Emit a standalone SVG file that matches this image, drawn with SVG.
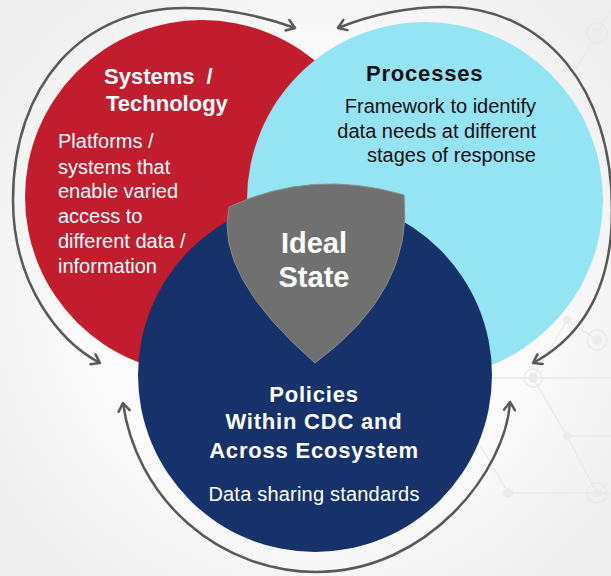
<svg xmlns="http://www.w3.org/2000/svg" width="611" height="576" viewBox="0 0 611 576">
<defs>
<radialGradient id="bg" cx="310" cy="290" r="380" gradientUnits="userSpaceOnUse">
<stop offset="0" stop-color="#ffffff"/>
<stop offset="0.6" stop-color="#fbfbfb"/>
<stop offset="1" stop-color="#eeeeee"/>
</radialGradient>
<marker id="chev" viewBox="0 0 12 14" markerWidth="12" markerHeight="14" refX="10" refY="7" orient="auto-start-reverse" markerUnits="userSpaceOnUse">
<path d="M2,1.5 L10,7 L2,12.5" fill="none" stroke="#595959" stroke-width="2.5" stroke-linecap="round" stroke-linejoin="round"/>
</marker>
<style>
.arc{fill:none;stroke:#595959;stroke-width:2.5;marker-start:url(#chev);marker-end:url(#chev)}
.net{fill:none;stroke:#e9e9e9;stroke-width:1.3}
.netdot{fill:#ebebeb}
.hw{font-family:"Liberation Sans",Arial,sans-serif;font-weight:bold;font-size:22px;fill:#ffffff}
.hb{font-family:"Liberation Sans",Arial,sans-serif;font-weight:bold;font-size:22px;fill:#111111;letter-spacing:0.8px}
.bw{font-family:"Liberation Sans",Arial,sans-serif;font-size:20px;fill:#ffffff}
.bb{font-family:"Liberation Sans",Arial,sans-serif;font-size:20px;fill:#111111}
.ideal{font-family:"Liberation Sans",Arial,sans-serif;font-weight:bold;font-size:29px;fill:#ffffff}
</style>
</defs>
<rect width="611" height="576" fill="url(#bg)"/>
<g id="background-network">
<path class="net" d="M490,378 H611 M533,378 L567,436 H611 M567,436 L597,493 M508,493 H611 M508,493 L480,445 M567,320 L597,340 M567,320 L533,378 M597,33 L611,10 M597,33 L570,80"/>
<circle class="net" cx="597" cy="33" r="10"/><circle class="netdot" cx="597" cy="33" r="5"/>
<circle class="net" cx="597" cy="340" r="10"/><circle class="netdot" cx="597" cy="340" r="5"/>
<circle class="net" cx="533" cy="378" r="9"/><circle class="netdot" cx="533" cy="378" r="5"/>
<circle class="netdot" cx="567" cy="320" r="4"/>
<circle class="netdot" cx="567" cy="436" r="4"/>
<circle class="net" cx="597" cy="493" r="10"/><circle class="netdot" cx="597" cy="493" r="5"/>
<circle class="netdot" cx="508" cy="493" r="5"/>
</g>
<g id="systems-technology">
<circle cx="202" cy="197" r="177" fill="#C21D2E"/>
</g>
<g id="processes">
<circle cx="425" cy="200" r="178" fill="#95E4F4"/>
</g>
<g id="policies">
<circle cx="315" cy="375" r="177" fill="#17316B"/>
</g>
<g id="ideal-state">
<path d="M229,207 Q312,168 404,195 Q414,290 315,363 Q214,275 229,207 Z" fill="#707070" stroke="#8a8a8a" stroke-width="1"/>
<text class="ideal" x="314" y="253" text-anchor="middle">Ideal</text>
<text class="ideal" x="314" y="287" text-anchor="middle">State</text>
</g>
<g id="systems-technology-text">
<text class="hw" x="104" y="84" word-spacing="6">Systems /</text>
<text class="hw" x="106" y="111">Technology</text>
<text class="bw" x="58" y="148">Platforms /</text>
<text class="bw" x="58" y="174">systems that</text>
<text class="bw" x="58" y="198">enable varied</text>
<text class="bw" x="58" y="223">access to</text>
<text class="bw" x="58" y="248">different data /</text>
<text class="bw" x="58" y="273">information</text>
</g>
<g id="processes-text">
<text class="hb" x="366" y="81">Processes</text>
<text class="bb" x="536" y="113" text-anchor="end">Framework to identify</text>
<text class="bb" x="536" y="138" text-anchor="end">data needs at different</text>
<text class="bb" x="536" y="162" text-anchor="end">stages of response</text>
</g>
<g id="policies-text">
<text class="hw" x="314" y="402" text-anchor="middle" letter-spacing="0.8">Policies</text>
<text class="hw" x="314" y="429" text-anchor="middle" letter-spacing="0.8">Within CDC and</text>
<text class="hw" x="314" y="458" text-anchor="middle" letter-spacing="0.8">Across Ecosystem</text>
<text class="bw" x="314" y="501" text-anchor="middle" letter-spacing="0.2">Data sharing standards</text>
</g>
<g id="connectors">
<path class="arc" d="M100,363 C60,342 13,285 13,200 C13,84.8 81.8,8 185,8 Q240,8 295,28"/>
<path class="arc" d="M338,28 Q390,7 445,7 C545.2,7 612,88.2 612,210 C612,285 585,335 533,363"/>
<path class="arc" d="M123,403 A196,196 0 0 0 316,572 C428.5,572 506,470 510,402"/>
</g>
</svg>
